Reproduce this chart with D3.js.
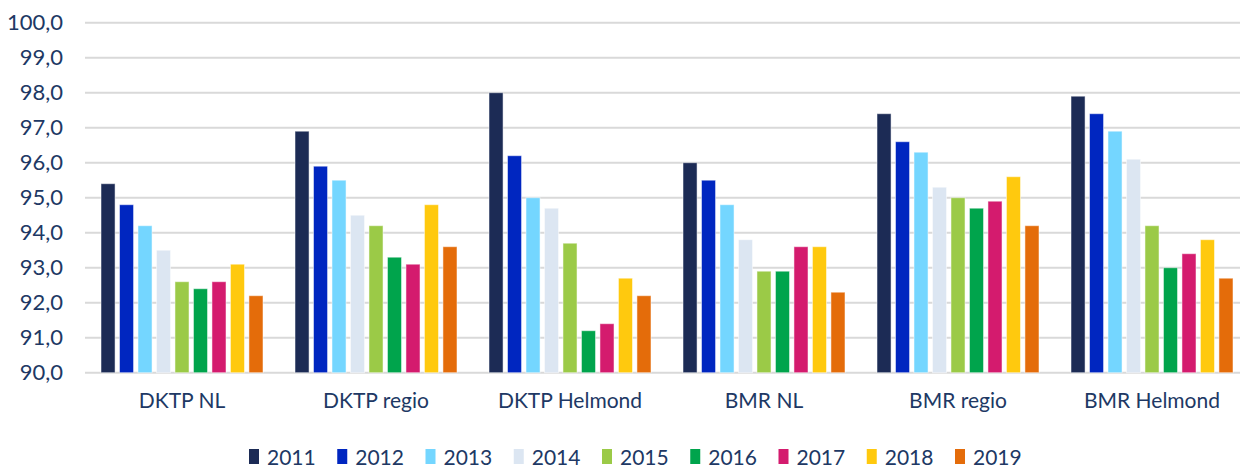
<!DOCTYPE html>
<html>
<head>
<meta charset="utf-8">
<script src="https://cdn.jsdelivr.net/npm/d3@7"></script>
<style>
  html, body { margin: 0; padding: 0; background: #fff; }
  svg { display: block; font-family: Lato, "Open Sans", sans-serif; }
</style>
</head>
<body>
<div id="chart"></div>
<script>
// categories and series
const categories = ["DKTP NL", "DKTP regio", "DKTP Helmond", "BMR NL", "BMR regio", "BMR Helmond"];
const years = ["2011", "2012", "2013", "2014", "2015", "2016", "2017", "2018", "2019"];
const yearColors = ["#1c2b55", "#0026c0", "#74d6ff", "#dce6f2", "#9bca47", "#00a44c", "#d41b6e", "#ffc90e", "#e46c0a"];

// values per category, one per year
const dktpNL      = [95.4, 94.8, 94.2, 93.5, 92.6, 92.4, 92.6, 93.1, 92.2];
const dktpRegio   = [96.9, 95.9, 95.5, 94.5, 94.2, 93.3, 93.1, 94.8, 93.6];
const dktpHelmond = [98.0, 96.2, 95.0, 94.7, 93.7, 91.2, 91.4, 92.7, 92.2];
const bmrNL       = [96.0, 95.5, 94.8, 93.8, 92.9, 92.9, 93.6, 93.6, 92.3];
const bmrRegio    = [97.4, 96.6, 96.3, 95.3, 95.0, 94.7, 94.9, 95.6, 94.2];
const bmrHelmond  = [97.9, 97.4, 96.9, 96.1, 94.2, 93.0, 93.4, 93.8, 92.7];

const yTicks = [90, 91, 92, 93, 94, 95, 96, 97, 98, 99, 100];

const seriesByCategory = [dktpNL, dktpRegio, dktpHelmond, bmrNL, bmrRegio, bmrHelmond];

const width = 1240, height = 468;
const margin = { left: 85, right: -9, top: 22.7, bottom: 95.3 };
const textColor = "#203864";

const svg = d3.select("#chart").append("svg")
  .attr("width", width)
  .attr("height", height);

const x0 = d3.scaleBand()
  .domain(categories)
  .range([margin.left, width - margin.right])
  .paddingInner(0.165)
  .paddingOuter(0.0825);

const x1 = d3.scaleBand()
  .domain(years)
  .range([0, x0.bandwidth()])
  .paddingInner(0.24)
  .paddingOuter(0);

const y = d3.scaleLinear()
  .domain([90, 100])
  .range([height - margin.bottom, margin.top]);

const color = d3.scaleOrdinal().domain(years).range(yearColors);

// grid lines
svg.append("g")
  .selectAll("line")
  .data(yTicks)
  .join("line")
  .attr("x1", margin.left)
  .attr("x2", width)
  .attr("y1", d => y(d))
  .attr("y2", d => y(d))
  .attr("stroke", "#d9d9d9")
  .attr("stroke-width", 2);

// y axis labels
const yAxis = svg.append("g")
  .attr("transform", `translate(${margin.left - 22},0)`)
  .call(d3.axisLeft(y).tickValues(yTicks).tickSize(0).tickPadding(0)
    .tickFormat(d => d3.format(".1f")(d).replace(".", ",")));
yAxis.select(".domain").remove();
yAxis.selectAll("text")
  .attr("fill", textColor)
  .style("font-size", "22px")
  .style("font-family", "Lato, 'Open Sans', sans-serif");

// bars
const groups = svg.append("g")
  .selectAll("g")
  .data(categories)
  .join("g")
  .attr("transform", d => `translate(${x0(d)},0)`);

groups.selectAll("rect")
  .data((d, i) => seriesByCategory[i].map((v, j) => ({ year: years[j], value: v })))
  .join("rect")
  .attr("x", d => x1(d.year))
  .attr("y", d => y(d.value))
  .attr("width", x1.bandwidth())
  .attr("height", d => y(90) - y(d.value))
  .attr("fill", d => color(d.year))
  .attr("stroke", "#ffffff")
  .attr("stroke-opacity", 0.5)
  .attr("stroke-width", 1);

// category labels
const xAxis = svg.append("g")
  .attr("transform", `translate(0,${y(90)})`)
  .call(d3.axisBottom(x0).tickSize(0).tickPadding(20));
xAxis.select(".domain").remove();
xAxis.selectAll("text")
  .attr("fill", textColor)
  .style("font-size", "21px")
  .style("font-family", "Lato, 'Open Sans', sans-serif");

// legend
const legendX = d3.scalePoint()
  .domain(years)
  .range([249, 955]);

const legend = svg.append("g")
  .selectAll("g")
  .data(years)
  .join("g")
  .attr("transform", d => `translate(${legendX(d)},449)`);

legend.append("rect")
  .attr("width", 10)
  .attr("height", 15)
  .attr("fill", d => color(d));

legend.append("text")
  .attr("x", 18)
  .attr("y", 7.5)
  .attr("dominant-baseline", "central")
  .attr("fill", textColor)
  .style("font-size", "21px")
  .text(d => d);
</script>
</body>
</html>
